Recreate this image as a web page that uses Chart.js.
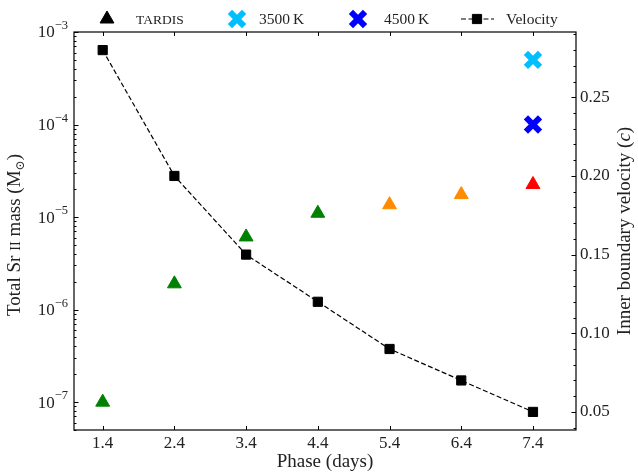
<!DOCTYPE html>
<html>
<head>
<meta charset="utf-8">
<script src="https://cdn.jsdelivr.net/npm/chart.js@4.4.1/dist/chart.umd.min.js"></script>
<style>
  html, body { margin: 0; padding: 0; background: #fff; }
</style>
</head>
<body>
<canvas id="srChart" width="638" height="473"></canvas>
<script>
// values
const phases = [1.4, 2.4, 3.4, 4.4, 5.4, 6.4, 7.4];
const phaseLabels = ['1.4', '2.4', '3.4', '4.4', '5.4', '6.4', '7.4'];
const tardisMass = [1.0e-7, 1.9e-6, 6.1e-6, 1.1e-5, 1.36e-5, 1.75e-5, 2.25e-5];
const tardisColors = ['green', 'green', 'green', 'green', 'darkorange', 'darkorange', 'red'];
const tempPhase = [7.4];
const mass3500 = [5.0e-4];
const mass4500 = [1.0e-4];
const velocity = [0.28, 0.20, 0.15, 0.12, 0.09, 0.07, 0.05];

// log axis labels are "10" with these exponents
const massTicks = [1e-7, 1e-6, 1e-5, 1e-4, 1e-3];
const massTickExp = ['\u22127', '\u22126', '\u22125', '\u22124', '\u22123'];
const velTicks = [0.05, 0.10, 0.15, 0.20, 0.25];
const velTickLabels = ['0.05', '0.10', '0.15', '0.20', '0.25'];

const serif = '"Liberation Serif", "DejaVu Serif", serif';
const textColor = '#222';

// axis titles as runs: [text, font size, style, baseline shift]
const massTitle = [['Total Sr ', 19], ['II', 14.5], [' mass (M', 19], ['\u2299', 12, '', 4], [')', 19]];
const velTitle = [['Inner boundary velocity (', 19], ['c', 19, 'italic '], [')', 19]];

const pts = (xs, ys) => xs.map((x, i) => ({ x: x, y: ys[i] }));

function drawRuns(ctx, runs, cx, cy) {
  ctx.save();
  ctx.translate(cx, cy);
  ctx.rotate(-Math.PI / 2);
  ctx.fillStyle = textColor;
  ctx.textBaseline = 'alphabetic';
  const fontOf = r => (r[2] || '') + r[1] + 'px ' + serif;
  let total = 0;
  runs.forEach(r => { ctx.font = fontOf(r); total += ctx.measureText(r[0]).width; });
  let x = -total / 2;
  runs.forEach(r => {
    ctx.font = fontOf(r);
    ctx.fillText(r[0], x, 6 + (r[3] || 0));
    x += ctx.measureText(r[0]).width;
  });
  ctx.restore();
}

// matplotlib-style inward ticks and a closed frame
const frameTicks = {
  id: 'frameTicks',
  afterDatasetsDraw(chart) {
    const { ctx, chartArea: a, scales } = chart;
    ctx.save();
    ctx.strokeStyle = '#000';
    ctx.lineWidth = 1;
    const seg = (x1, y1, x2, y2) => { ctx.beginPath(); ctx.moveTo(x1, y1); ctx.lineTo(x2, y2); ctx.stroke(); };
    scales.x.ticks.forEach(t => {
      const px = Math.round(scales.x.getPixelForValue(t.value)) + 0.5;
      seg(px, a.bottom, px, a.bottom - 4);
      seg(px, a.top, px, a.top + 4);
    });
    scales.y.ticks.forEach(t => {
      const py = Math.round(scales.y.getPixelForValue(t.value)) + 0.5;
      seg(a.left, py, a.left + (t.major ? 4.5 : 2.5), py);
    });
    scales.y2.ticks.forEach(t => {
      const py = Math.round(scales.y2.getPixelForValue(t.value)) + 0.5;
      seg(a.right, py, a.right - (t.major ? 4.5 : 2.5), py);
    });
    ctx.lineWidth = 1.2;
    ctx.strokeRect(a.left, a.top, a.right - a.left, a.bottom - a.top);
    ctx.restore();
  }
};

// power-of-ten labels with a real superscript, and both axis titles
const axisText = {
  id: 'axisText',
  afterDraw(chart) {
    const { ctx, chartArea: a, scales } = chart;
    ctx.save();
    ctx.fillStyle = textColor;
    ctx.textBaseline = 'middle';
    ctx.textAlign = 'left';
    massTicks.forEach((v, i) => {
      const py = scales.y.getPixelForValue(v);
      ctx.font = '12.5px ' + serif;
      const ew = ctx.measureText(massTickExp[i]).width;
      ctx.font = '17px ' + serif;
      const bw = ctx.measureText('10').width;
      const right = a.left - 6;
      ctx.fillText('10', right - ew - bw, py + 1);
      ctx.font = '12.5px ' + serif;
      ctx.fillText(massTickExp[i], right - ew, py - 6);
    });
    ctx.restore();
    const mid = (a.top + a.bottom) / 2;
    drawRuns(ctx, massTitle, 14, mid + 4);
    drawRuns(ctx, velTitle, chart.width - 14, mid);
  }
};

// legend row above the axes
const legendRow = {
  id: 'legendRow',
  afterDraw(chart) {
    const ctx = chart.ctx;
    const y = 19;
    const markerX = [107, 237, 358, 477];
    const textX = [136, 259, 384, 506];
    const h = Chart.helpers;
    ctx.save();
    ctx.textBaseline = 'middle';
    chart.data.datasets.forEach((ds, i) => {
      ctx.save();
      const color = i === 0 ? '#000' : ds.borderColor;
      ctx.fillStyle = color;
      ctx.strokeStyle = color;
      ctx.lineWidth = ds.borderWidth;
      if (ds.showLine) {
        ctx.setLineDash(ds.borderDash);
        ctx.beginPath();
        ctx.moveTo(markerX[i] - 16, y);
        ctx.lineTo(markerX[i] + 17, y);
        ctx.stroke();
        ctx.setLineDash([]);
        ctx.lineWidth = 1;
      }
      h.drawPoint(ctx, { pointStyle: ds.pointStyle, radius: ds.pointRadius, borderWidth: i === 0 || ds.showLine ? 1 : ds.borderWidth, rotation: 0 }, markerX[i], y);
      ctx.restore();
      ctx.fillStyle = textColor;
      ctx.font = i === 0 ? '13.5px ' + serif : '15.5px ' + serif;
      ctx.fillText(ds.label, textX[i], y + 1);
    });
    ctx.restore();
  }
};

new Chart(document.getElementById('srChart'), {
  type: 'scatter',
  data: {
    datasets: [{
      label: 'TARDIS',
      data: pts(phases, tardisMass),
      yAxisID: 'y',
      pointStyle: 'triangle',
      pointRadius: 8,
      backgroundColor: tardisColors,
      borderColor: tardisColors,
      borderWidth: 1
    }, {
      label: '3500\u2009K',
      data: pts(tempPhase, mass3500),
      yAxisID: 'y',
      pointStyle: 'crossRot',
      pointRadius: 10,
      backgroundColor: 'deepskyblue',
      borderColor: 'deepskyblue',
      borderWidth: 6
    }, {
      label: '4500\u2009K',
      data: pts(tempPhase, mass4500),
      yAxisID: 'y',
      pointStyle: 'crossRot',
      pointRadius: 10,
      backgroundColor: 'blue',
      borderColor: 'blue',
      borderWidth: 6
    }, {
      label: 'Velocity',
      data: pts(phases, velocity),
      yAxisID: 'y2',
      showLine: true,
      borderColor: '#000',
      borderWidth: 1.2,
      borderDash: [5, 2.5],
      pointStyle: 'rect',
      pointRadius: 6.5,
      pointBorderWidth: 1,
      pointBackgroundColor: '#000',
      pointBorderColor: '#000'
    }]
  },
  options: {
    responsive: false,
    animation: false,
    events: [],
    layout: { padding: { top: 32 } },
    plugins: {
      legend: { display: false },
      tooltip: { enabled: false }
    },
    scales: {
      x: {
        type: 'linear',
        position: 'bottom',
        min: 1.0,
        max: 8.0,
        afterBuildTicks: s => { s.ticks = phases.map(v => ({ value: v })); },
        ticks: {
          autoSkip: false,
          maxRotation: 0,
          padding: 3,
          color: textColor,
          font: { family: serif, size: 17 },
          callback: (v, i) => phaseLabels[i]
        },
        grid: { display: false, drawTicks: false },
        border: { display: false },
        title: {
          display: true,
          text: 'Phase (days)',
          color: textColor,
          font: { family: serif, size: 19 },
          padding: { top: 0, bottom: 0 }
        },
        afterFit: s => { s.height = 43; }
      },
      y: {
        type: 'logarithmic',
        position: 'left',
        min: 5e-8,
        max: 1e-3,
        afterBuildTicks: s => {
          const list = [];
          for (let e = -8; e <= -4; e++) {
            for (let k = 1; k <= 9; k++) {
              const v = Number((k * Math.pow(10, e)).toPrecision(3));
              if (v >= 5e-8 && v <= 1e-3) list.push({ value: v, major: k === 1 });
            }
          }
          list.push({ value: 1e-3, major: true });
          s.ticks = list;
        },
        ticks: { autoSkip: false, display: false },
        grid: { display: false, drawTicks: false },
        border: { display: false },
        afterFit: s => { s.width = 74; }
      },
      y2: {
        type: 'linear',
        position: 'right',
        min: 0.0385,
        max: 0.2915,
        afterBuildTicks: s => {
          const list = [];
          for (let n = 4; n <= 29; n++) list.push({ value: n / 100, major: n % 5 === 0 });
          s.ticks = list;
        },
        ticks: {
          autoSkip: false,
          padding: 4,
          color: textColor,
          font: { family: serif, size: 17 },
          callback: v => {
            const i = velTicks.findIndex(m => Math.abs(m - v) < 1e-6);
            return i >= 0 ? velTickLabels[i] : '';
          }
        },
        grid: { display: false, drawTicks: false },
        border: { display: false },
        afterFit: s => { s.width = 62; }
      }
    }
  },
  plugins: [frameTicks, axisText, legendRow]
});
</script>
</body>
</html>
